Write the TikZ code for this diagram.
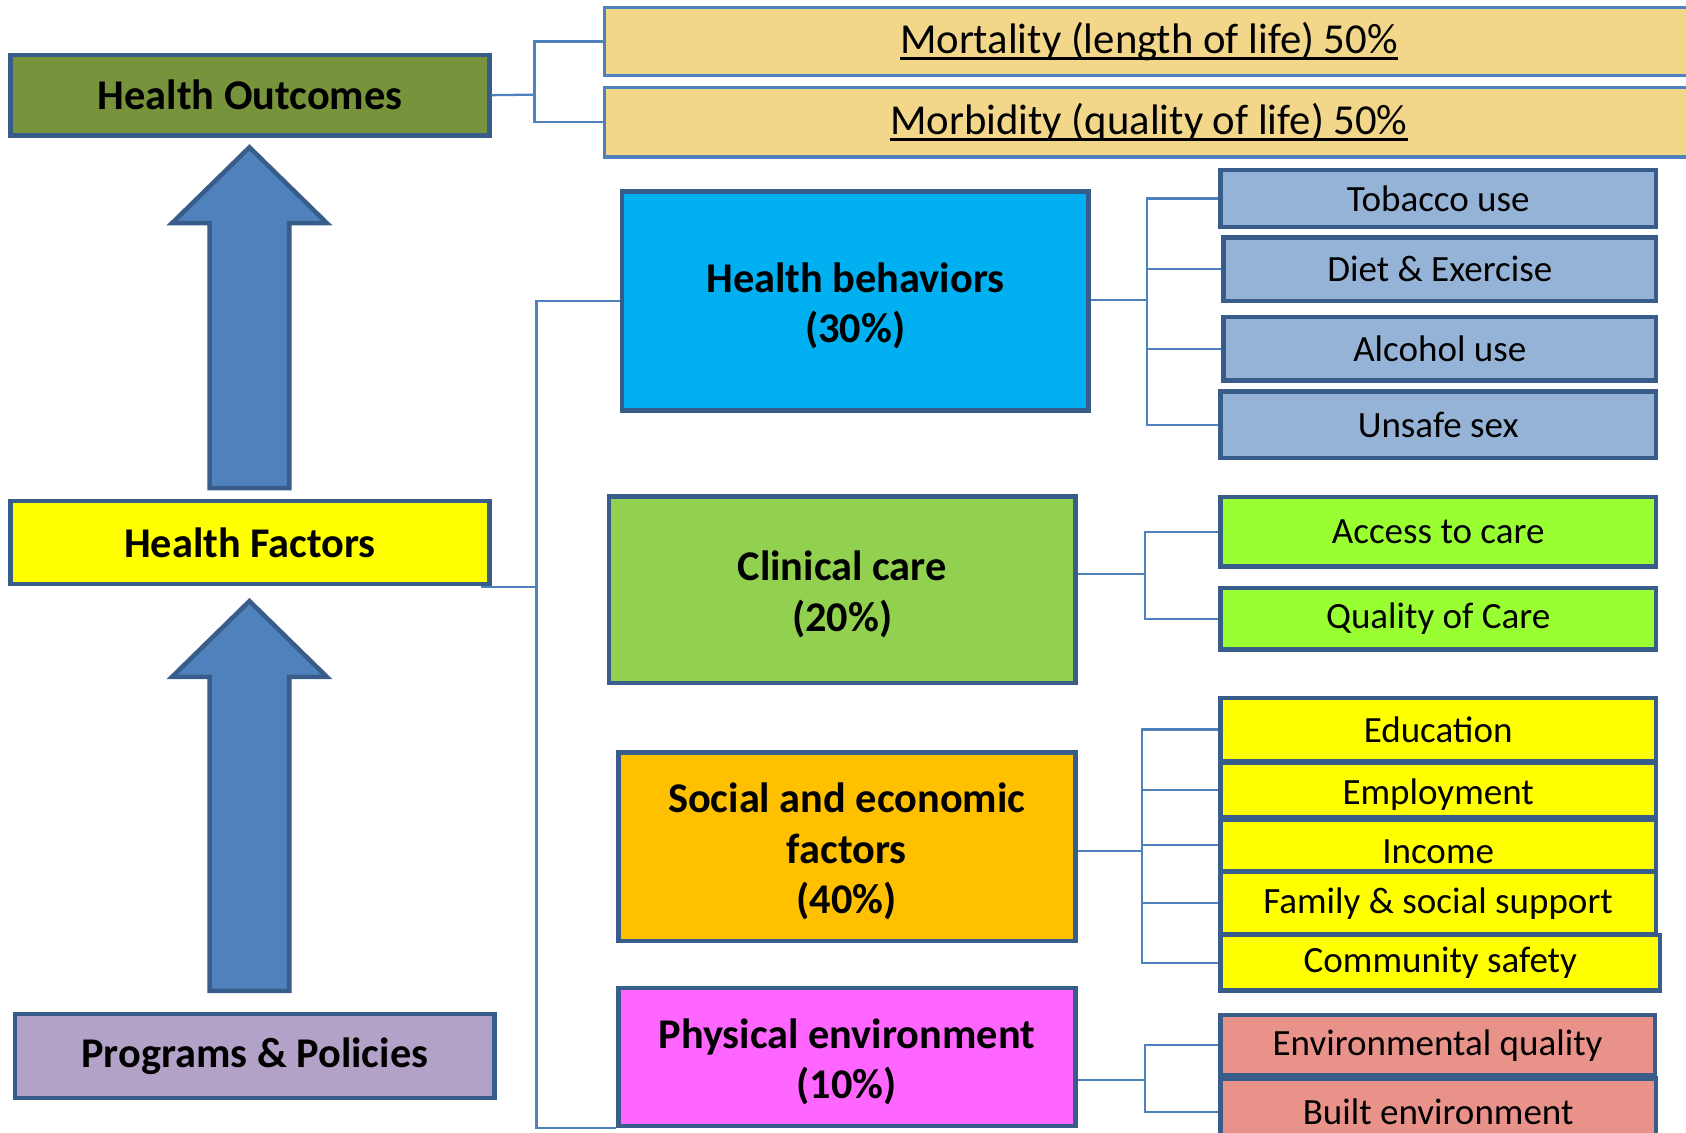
\documentclass[tikz,border=0pt]{standalone}
\usepackage{fontspec}
\setmainfont{Carlito}

\definecolor{edgeblue}{HTML}{385D8A}
\definecolor{linkblue}{HTML}{4F81BD}
\definecolor{olive}{HTML}{77933C}
\definecolor{tan}{HTML}{F2D78B}
\definecolor{behavblue}{HTML}{00B0F0}
\definecolor{clingreen}{HTML}{92D050}
\definecolor{socorange}{HTML}{FFC000}
\definecolor{physpink}{HTML}{FF66FF}
\definecolor{subblue}{HTML}{95B3D7}
\definecolor{lime}{HTML}{99FF33}
\definecolor{brightyellow}{HTML}{FFFF00}
\definecolor{salmon}{HTML}{E8928A}
\definecolor{lilac}{HTML}{B3A2C7}

% underline that runs through the descenders
\newcommand{\undl}[1]{\setbox0\hbox{#1}\rlap{\rule[-1.8pt]{\wd0}{0.8pt}}\box0}
% taller first line, to sit the text a bit lower in the big boxes
\newcommand{\topgap}{\rule{0pt}{10.4pt}}

\begin{document}
\begin{tikzpicture}[scale=1.0,
    box/.style={draw=edgeblue, line width=1.2pt, inner sep=0pt, align=center},
    leftbox/.style={box, minimum width=4.45cm, font=\bfseries\fontsize{11.2}{13.4}\selectfont},
    mainbox/.style={box, font=\bfseries\fontsize{11.2}{13.4}\selectfont},
    subbox/.style={box, font=\fontsize{9.8}{12}\selectfont},
    outbox/.style={draw=linkblue, line width=0.8pt, inner sep=0pt, minimum width=10.13cm, font=\fontsize{11.3}{13}\selectfont},
    link/.style={draw=linkblue, line width=0.6pt},
    bigarrow/.style={fill=linkblue, draw=edgeblue, line width=1.2pt}]

    % Fix the page size
    \useasboundingbox (0,0) rectangle (15.68,-10.53);

    % Left column
    \node[leftbox, fill=olive, minimum height=0.75cm] (HO) at (2.325,-0.885) {Health Outcomes};
    \node[leftbox, fill=brightyellow, minimum height=0.77cm] (HF) at (2.325,-5.045) {Health Factors};
    \node[leftbox, fill=lilac, minimum width=4.46cm, minimum height=0.78cm] (PP) at (2.37,-9.82) {Programs \& Policies};

    % The two big arrows
    \draw[bigarrow] (1.95,-4.54) -- (1.95,-2.075) -- (1.60,-2.075) -- (2.32,-1.37)
        -- (3.04,-2.075) -- (2.69,-2.075) -- (2.69,-4.54) -- cycle;
    \draw[bigarrow] (1.95,-9.215) -- (1.95,-6.295) -- (1.60,-6.295) -- (2.32,-5.59)
        -- (3.04,-6.295) -- (2.69,-6.295) -- (2.69,-9.215) -- cycle;

    % Outcomes
    \node[outbox, fill=tan, minimum height=0.63cm] (Mort) at (10.685,-0.385) {\undl{Mortality (length of life) 50\%}};
    \node[outbox, fill=tan, minimum height=0.65cm] (Morb) at (10.685,-1.135) {\undl{Morbidity (quality of life) 50\%}};

    % Factors
    \node[mainbox, fill=behavblue, minimum width=4.34cm, minimum height=2.04cm] (HB) at (7.955,-2.80) {\topgap Health behaviors\\(30\%)};
    \node[mainbox, fill=clingreen, minimum width=4.335cm, minimum height=1.735cm] (CC) at (7.8325,-5.4825) {\topgap Clinical care\\(20\%)};
    \node[mainbox, fill=socorange, minimum width=4.25cm, minimum height=1.75cm] (SE) at (7.875,-7.875) {\topgap Social and economic\\factors\\(40\%)};
    \node[mainbox, fill=physpink, minimum width=4.25cm, minimum height=1.28cm] (PE) at (7.875,-9.83) {\topgap Physical environment\\(10\%)};

    % Health behaviors items
    \node[subbox, fill=subblue, minimum width=4.05cm, minimum height=0.53cm] (Tob) at (13.375,-1.845) {Tobacco use};
    \node[subbox, fill=subblue, minimum width=4.02cm, minimum height=0.59cm] (Diet) at (13.39,-2.505) {Diet \& Exercise};
    \node[subbox, fill=subblue, minimum width=4.02cm, minimum height=0.59cm] (Alc) at (13.39,-3.245) {Alcohol use};
    \node[subbox, fill=subblue, minimum width=4.05cm, minimum height=0.62cm] (Uns) at (13.375,-3.95) {Unsafe sex};

    % Clinical care items
    \node[subbox, fill=lime, minimum width=4.05cm, minimum height=0.65cm] (Acc) at (13.375,-4.945) {Access to care};
    \node[subbox, fill=lime, minimum width=4.05cm, minimum height=0.57cm] (Qual) at (13.375,-5.755) {Quality of Care};

    % Social and economic items
    \node[subbox, fill=brightyellow, minimum width=4.05cm, minimum height=0.59cm] (Edu) at (13.375,-6.785) {Education};
    \node[subbox, fill=brightyellow, minimum width=4.05cm, minimum height=0.51cm, text height=0.32cm] (Emp) at (13.375,-7.345) {Employment};
    \node[subbox, fill=brightyellow, minimum width=4.05cm, minimum height=0.48cm, text height=0.34cm] (Inc) at (13.375,-7.86) {Income};
    \node[subbox, fill=brightyellow, minimum width=4.05cm, minimum height=0.58cm] (Fam) at (13.375,-8.40) {Family \& social support};
    \node[subbox, fill=brightyellow, minimum width=4.09cm, minimum height=0.515cm] (Com) at (13.395,-8.9525) {Community safety};

    % Physical environment items
    \node[subbox, fill=salmon, minimum width=4.04cm, minimum height=0.56cm] (Env) at (13.37,-9.72) {Environmental quality};
    \node[subbox, fill=salmon, minimum width=4.05cm, minimum height=0.62cm] (Blt) at (13.375,-10.34) {Built environment};

    % Joints of the brackets
    \coordinate (hoj) at (4.97,-0.88);
    \coordinate (hfj) at (4.99,-5.46);
    \coordinate (hbj) at (10.665,-2.79);
    \coordinate (ccj) at (10.65,-5.34);
    \coordinate (sej) at (10.62,-7.915);
    \coordinate (pej) at (10.65,-10.045);

    % Brackets
    \draw[link] (HO.east) -- (hoj);
    \draw[link] (Mort.west) -| (hoj) |- (Morb.west);
    \draw[link] ([xshift=-1mm]HF.south east |- hfj) -- (hfj);
    \draw[link] (HB.west) -| (hfj) |- (PE.south west);
    \draw[link] (HB.east |- hbj) -- (hbj);
    \foreach \b in {Tob,Diet,Alc,Uns}
        \draw[link] (hbj) |- (\b.west);
    \draw[link] (CC.east |- ccj) -- (ccj);
    \foreach \b in {Acc,Qual}
        \draw[link] (ccj) |- (\b.west);
    \draw[link] (SE.east |- sej) -- (sej);
    \foreach \b in {Edu,Emp,Inc,Fam,Com}
        \draw[link] (sej) |- (\b.west);
    \draw[link] (PE.east |- pej) -- (pej);
    \foreach \b in {Env,Blt}
        \draw[link] (pej) |- (\b.west);

\end{tikzpicture}
\end{document}
